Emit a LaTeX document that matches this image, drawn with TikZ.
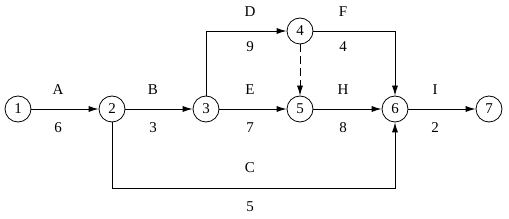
\documentclass[tikz,border=0pt]{standalone}
\usepackage{fontspec}
\setmainfont{Liberation Serif}
\usetikzlibrary{arrows.meta}
\begin{document}
\begin{tikzpicture}[x=1pt,y=-1pt,
  ev/.style={circle,draw,line width=0.8pt,minimum size=26pt,inner sep=0pt,font=\fontsize{15}{15}\selectfont},
  act/.style={line width=0.8pt,-{Latex[length=10pt,width=6pt]}},
  lbl/.style={font=\fontsize{15}{15}\selectfont,inner sep=0pt}]
\useasboundingbox (0,0) rectangle (509,219);
\node[ev] (n1) at (18,109) {1};
\node[ev] (n2) at (112,109) {2};
\node[ev] (n3) at (206,109) {3};
\node[ev] (n4) at (300,31) {4};
\node[ev] (n5) at (300,109) {5};
\node[ev] (n6) at (395,109) {6};
\node[ev] (n7) at (489,109) {7};
\draw[act] (n1) -- (n2);
\draw[act] (n2) -- (n3);
\draw[act] (n3) -- (n5);
\draw[act] (n5) -- (n6);
\draw[act] (n6) -- (n7);
\draw[act] (n3) |- (n4);
\draw[act] (n4) -| (n6);
\draw[act,dash pattern=on 8pt off 4pt] (n4) -- (n5);
\draw[act] (n2) |- (395,188) -- (n6);
\node[lbl] (la) at (58,90) {A};
\node[lbl] (l6) at (58,128) {6};
\node[lbl] (lb) at (153,90) {B};
\node[lbl] (l3) at (153,128) {3};
\node[lbl] (le) at (250,90) {E};
\node[lbl] (l7) at (250,128) {7};
\node[lbl] (lh) at (343,90) {H};
\node[lbl] (l8) at (343,128) {8};
\node[lbl] (li) at (435,90) {I};
\node[lbl] (l2) at (435,128) {2};
\node[lbl] (ld) at (250,12) {D};
\node[lbl] (l9) at (250,47) {9};
\node[lbl] (lf) at (343,12) {F};
\node[lbl] (l4) at (343,47) {4};
\node[lbl] (lc) at (250,168) {C};
\node[lbl] (l5) at (250,207) {5};
\end{tikzpicture}
\end{document}
